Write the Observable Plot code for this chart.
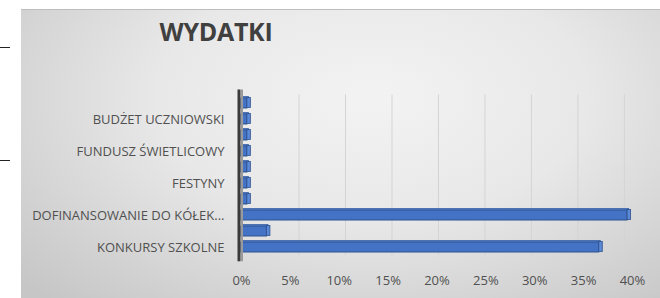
<!DOCTYPE html>
<html>
<head>
<meta charset="utf-8">
<script src="https://cdn.jsdelivr.net/npm/d3@7"></script>
<script src="https://cdn.jsdelivr.net/npm/@observablehq/plot@0.6"></script>
<style>
  html, body { margin: 0; padding: 0; background: #fff; }
  #wrap { position: relative; width: 660px; height: 298px; overflow: hidden; }
  #panel { position: absolute; left: 21px; top: 9px; width: 639px; height: 289px;
    border-top: 1px solid #bdbdbd;
    background: radial-gradient(ellipse 75% 95% at 55% 30%, #f3f3f3 0%, #e8e8e8 45%, #d2d2d2 80%, #c6c6c6 100%); }
  #title { position: absolute; left: 0; width: 432px; top: 14px; text-align: center;
    font-family: "Open Sans", sans-serif; font-weight: 700; font-size: 25px; color: #404040; letter-spacing: -0.3px; }
  .dash { position: absolute; left: 0; width: 10px; height: 1px; background: #222; }
  #chart { position: absolute; left: 0; top: 0; }
</style>
</head>
<body>
<div id="wrap">
  <div id="panel"></div>
  <div class="dash" style="top:47px"></div>
  <div class="dash" style="top:160px"></div>
  <div id="title">WYDATKI</div>
  <div id="chart"></div>
</div>
<script>
const categories = ["KONKURSY SZKOLNE", "kat. 2", "DOFINANSOWANIE DO KÓŁEK", "kat. 4", "FESTYNY", "kat. 6", "FUNDUSZ ŚWIETLICOWY", "kat. 8", "BUDŻET UCZNIOWSKI", "kat. 10"];
const tickLabels = ["KONKURSY SZKOLNE", "", "DOFINANSOWANIE DO KÓŁEK...", "", "FESTYNY", "", "FUNDUSZ ŚWIETLICOWY", "", "BUDŻET UCZNIOWSKI", ""];
const values = [0.366, 0.026, 0.395, 0.006, 0.006, 0.006, 0.006, 0.006, 0.006, 0.006];
const xTicks = [0, 0.05, 0.10, 0.15, 0.20, 0.25, 0.30, 0.35, 0.40];

const data = categories.map((c, i) => ({category: c, value: values[i]}));
const labelOf = new Map(categories.map((c, i) => [c, tickLabels[i]]));

// back-plane (3D depth) mapping for the gridlines
const depthScale = 0.951, depthShift = 0.0113;

const chart = Plot.plot({
  width: 660,
  height: 298,
  marginLeft: 241,
  marginRight: 28,
  marginTop: 89.5,
  marginBottom: 36.7,
  style: {background: "transparent", fontFamily: "Open Sans, sans-serif", fontSize: "13px", color: "#595959"},
  x: {domain: [0, 0.4], label: null},
  y: {domain: categories.slice().reverse(), padding: 0.35, label: null},
  marks: [
    Plot.ruleX(xTicks.slice(1), {x: d => d * depthScale + depthShift, stroke: "#d4d4d4", strokeWidth: 1, insetTop: 5, insetBottom: 6}),
    Plot.barX(data, {x: "value", y: "category", fill: "#5a87d3", dx: 1.5, dy: -1.5, stroke: "#3a62a8", strokeWidth: 0.8}),
    Plot.barX(data, {x: "value", y: "category", fill: "#4472c4", stroke: "#2f528f", strokeWidth: 1}),
    Plot.barX(data, {x1: "value", x2: "value", y: "category", insetRight: -3.5, fill: "#5b89d6", stroke: "#2f528f", strokeWidth: 0.8, dy: -0.5}),
    Plot.ruleX([0], {dx: 0.5, stroke: "#9a9a9a", strokeWidth: 2}),
    Plot.ruleX([0], {dx: -2.5, stroke: "#3a3a3a", strokeWidth: 3}),
    Plot.axisY({tickSize: 0, tickPadding: 17, tickFormat: d => labelOf.get(d), fill: "#505050", fontSize: 13, label: null}),
    Plot.axisX({ticks: xTicks, tickSize: 0, tickPadding: 14, tickFormat: d => Math.round(d * 100) + "%", fill: "#505050", fontSize: 13, label: null})
  ]
});
document.getElementById("chart").appendChild(chart);
</script>
</body>
</html>
